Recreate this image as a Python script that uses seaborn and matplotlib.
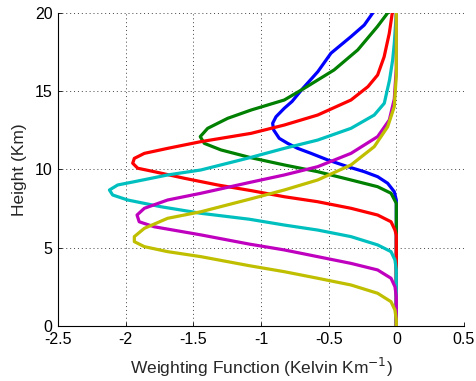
import matplotlib
matplotlib.use("Agg")
import matplotlib.pyplot as plt
import seaborn as sns
import pandas as pd

# ---- data (x = weighting function, y = height km) ----
blue_x = [0, 0, -0.015, -0.064, -0.138, -0.237, -0.359, -0.507, -0.630, -0.729, -0.803, -0.865, -0.906,
          -0.914, -0.889, -0.828, -0.77, -0.69, -0.58, -0.483, -0.335, -0.237, -0.174]
blue_y = [0, 8.05, 8.58, 9.12, 9.54, 9.86, 10.18, 10.61, 11.03, 11.35, 11.67, 11.99, 12.52,
          12.95, 13.37, 13.91, 14.35, 15.19, 16.25, 17.43, 18.49, 19.23, 20]

green_x = [0, 0, -0.039, -0.138, -0.335, -0.581, -0.828, -1.073, -1.296, -1.419, -1.449, -1.394,
           -1.246, -1.073, -0.828, -0.68, -0.46, -0.285, -0.14, -0.064]
green_y = [0, 7.84, 8.48, 8.9, 9.33, 9.86, 10.29, 10.75, 11.25, 11.67, 12.1, 12.63,
           13.27, 13.8, 14.44, 15.19, 16.36, 17.64, 19.13, 20]

red_x = [0, 0, -0.01, -0.039, -0.138, -0.335, -0.581, -0.828, -1.073, -1.320, -1.567, -1.789, -1.911,
         -1.948, -1.936, -1.862, -1.690, -1.444, -1.073, -0.828, -0.581, -0.335, -0.21, -0.138, -0.09,
         -0.052, -0.03]
red_y = [0, 5.8, 6.13, 6.66, 7.09, 7.52, 7.94, 8.26, 8.65, 9.01, 9.44, 9.86, 10.08,
         10.40, 10.71, 11.03, 11.35, 11.78, 12.31, 12.84, 13.48, 14.44, 15.29, 16.04, 17.2,
         18.7, 20]

cyan_x = [0, 0, -0.01, -0.039, -0.138, -0.335, -0.581, -0.828, -1.085, -1.444, -1.739, -1.985, -2.096,
          -2.12, -2.059, -1.936, -1.69, -1.444, -1.085, -0.828, -0.581, -0.335, -0.163, -0.089, -0.05,
          -0.027, -0.015, 0]
cyan_y = [0, 3.58, 4.22, 4.75, 5.18, 5.71, 6.13, 6.45, 6.82, 7.2, 7.62, 8.05, 8.37,
          8.69, 9.01, 9.22, 9.65, 9.97, 10.75, 11.35, 11.88, 12.63, 13.48, 14.23, 15.72,
          17.0, 18.06, 20]

magenta_x = [0, 0, -0.01, -0.039, -0.138, -0.335, -0.581, -0.828, -1.085, -1.444, -1.789, -1.9,
             -1.916, -1.862, -1.69, -1.444, -1.085, -0.828, -0.581, -0.335, -0.138, -0.052, -0.015, 0, 0]
magenta_y = [0, 1.87, 2.51, 3.05, 3.58, 4.0, 4.43, 4.86, 5.23, 5.82, 6.34, 6.66,
             7.09, 7.52, 8.05, 8.48, 9.17, 9.65, 10.18, 11.03, 12.1, 13.16, 14.5, 16.5, 20]

yellow_x = [0, 0, -0.01, -0.039, -0.138, -0.335, -0.581, -0.828, -1.085, -1.444, -1.69, -1.862,
            -1.936, -1.936, -1.862, -1.69, -1.444, -1.085, -0.828, -0.581, -0.335, -0.163, -0.064,
            -0.015, 0, 0]
yellow_y = [0, 0.38, 1.02, 1.55, 2.09, 2.62, 3.05, 3.47, 3.85, 4.43, 4.75, 5.07,
            5.39, 5.71, 6.24, 6.88, 7.3, 8.1, 8.69, 9.33, 10.29, 11.46, 12.73,
            14.01, 16, 20]

series_names = ["blue", "green", "red", "cyan", "magenta", "yellow"]
series_colors = ["#0000FF", "#008000", "#FF0000", "#00BFBF", "#BF00BF", "#BFBF00"]

x_ticks = [-2.5, -2, -1.5, -1, -0.5, 0, 0.5]
x_ticklabels = ["-2.5", "-2", "-1.5", "-1", "-0.5", "0", "0.5"]
y_ticks = [0, 5, 10, 15, 20]
y_ticklabels = ["0", "5", "10", "15", "20"]

# ---- build table ----
all_x = [blue_x, green_x, red_x, cyan_x, magenta_x, yellow_x]
all_y = [blue_y, green_y, red_y, cyan_y, magenta_y, yellow_y]
rows = []
for name, xs, ys in zip(series_names, all_x, all_y):
    for xv, yv in zip(xs, ys):
        rows.append({"series": name, "x": xv, "y": yv})
df = pd.DataFrame(rows)

sns.set_style("ticks")
plt.rcParams["font.family"] = ["Liberation Sans", "DejaVu Sans"]
plt.rcParams["axes.unicode_minus"] = False

fig = plt.figure(figsize=(4.77, 3.81), dpi=100)
ax = fig.add_axes([0.1216, 0.1444, 0.8511, 0.8215])

sns.lineplot(data=df, x="x", y="y", hue="series", hue_order=series_names,
             palette=dict(zip(series_names, series_colors)), sort=False,
             estimator=None, linewidth=2.3, legend=False, ax=ax, zorder=3)

ax.set_xlim(-2.5, 0.5)
ax.set_ylim(0, 20)
ax.set_xticks(x_ticks)
ax.set_xticklabels(x_ticklabels, fontsize=11.5)
ax.set_yticks(y_ticks)
ax.set_yticklabels(y_ticklabels, fontsize=11.5)
ax.tick_params(direction="in", length=3, width=0.6, colors="black", pad=4)
ax.grid(True, linestyle=(0, (1, 3)), color="#444444", linewidth=0.7)
for s in ["top", "right"]:
    ax.spines[s].set_visible(False)
for s in ["left", "bottom"]:
    ax.spines[s].set_linewidth(0.8)
    ax.spines[s].set_color("black")
ax.set_xlabel("Weighting Function (Kelvin Km$^{-1}$)", fontsize=12.5, va="center")
ax.set_ylabel("Height (Km)", fontsize=12.5, va="center")
ax.xaxis.set_label_coords(0.5, -0.131)
ax.yaxis.set_label_coords(-0.094, 0.5)

fig.savefig("out.png", dpi=100)
